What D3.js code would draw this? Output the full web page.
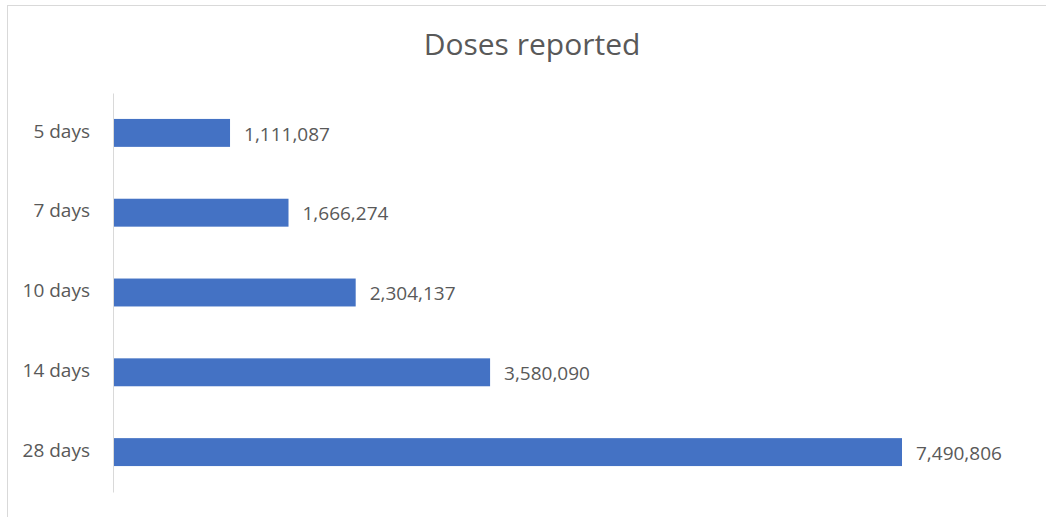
<!DOCTYPE html>
<html>
<head>
<meta charset="utf-8">
<script src="https://cdn.jsdelivr.net/npm/d3@7"></script>
<style>
  body { margin: 0; background: #fff; }
  text { font-family: "Open Sans", sans-serif; fill: #595959; }
</style>
</head>
<body>
<div id="chart"></div>
<script>
let categories = ["5 days", "7 days", "10 days", "14 days", "28 days"];
let doses = [1111087, 1666274, 2304137, 3580090, 7490806];
let title = "Doses reported";

function config(){
    let width = 1046;
    let height = 517;
    let margin = { top: 93, bottom: 25, left: 113, right: 144 };
    let bodyWidth = width - margin.left - margin.right;
    let bodyHeight = height - margin.top - margin.bottom;
    let svg = d3.select("#chart")
                .append("svg")
                .attr("width", width)
                .attr("height", height);
    return { width, height, margin, bodyWidth, bodyHeight, svg };
}

function draw(){
    let { width, height, margin, bodyWidth, bodyHeight, svg } = config();

    // outer frame (top and left edges visible)
    svg.append("line")
        .attr("x1", 7).attr("x2", width).attr("y1", 5.5).attr("y2", 5.5)
        .style("stroke", "#d9d9d9");
    svg.append("line")
        .attr("x1", 7.5).attr("x2", 7.5).attr("y1", 5).attr("y2", height)
        .style("stroke", "#d9d9d9");

    svg.append("text")
        .attr("x", 532)
        .attr("y", 55)
        .attr("text-anchor", "middle")
        .style("font-size", "30px")
        .text(title);

    let container = svg.append("g")
        .attr("transform", "translate(" + [margin.left, margin.top] + ")");

    let xScale = d3.scaleLinear()
        .domain([0, d3.max(doses)])
        .range([0, 789]);

    let yScale = d3.scaleBand()
        .domain(categories)
        .range([0, 399])
        .paddingInner(0.65)
        .paddingOuter(0.325);

    let yAxis = container.append("g")
        .call(d3.axisLeft(yScale).tickSize(0).tickPadding(23));
    yAxis.select(".domain").style("stroke", "#d9d9d9");
    yAxis.selectAll("text")
        .style("font-size", "19px")
        .style("fill", "#595959")
        .attr("dy", "0.25em");

    let data = categories.map((c, i) => ({ cat: c, value: doses[i] }));

    container.selectAll("rect.bar")
        .data(data)
        .enter()
        .append("rect")
        .attr("class", "bar")
        .attr("x", 1)
        .attr("y", d => yScale(d.cat))
        .attr("width", d => xScale(d.value) - 1)
        .attr("height", yScale.bandwidth())
        .style("fill", "#4472c4");

    container.selectAll("text.lbl")
        .data(data)
        .enter()
        .append("text")
        .attr("class", "lbl")
        .attr("x", d => xScale(d.value) + 14)
        .attr("y", d => yScale(d.cat) + yScale.bandwidth() / 2)
        .attr("dy", "0.4em")
        .style("font-size", "19px")
        .text(d => d3.format(",")(d.value));
}

draw();
</script>
</body>
</html>
